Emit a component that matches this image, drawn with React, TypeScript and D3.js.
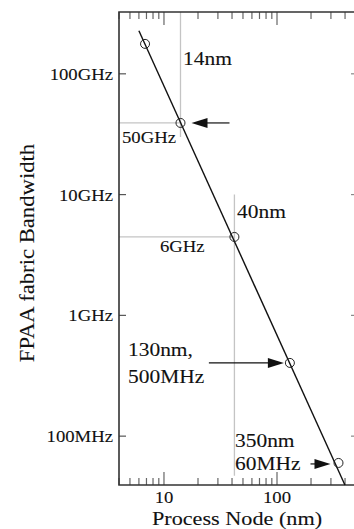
import React, { useEffect, useRef } from 'react';
import * as d3 from 'd3';

// process node (nm) and fabric bandwidth (Hz)
const nodes = [6.8, 14, 42, 130, 350];
const bandwidth = [1.77e11, 3.92e10, 4.46e9, 4.04e8, 6.0e7];

// fitted trend line end points
const fitNodes = [6.0, 399];
const fitBandwidth = [2.27e11, 3.94e7];

const yTicks = [1e8, 1e9, 1e10, 1e11];
const yTickLabels = ['100MHz', '1GHz', '10GHz', '100GHz'];
const xMajor = [10, 100];
const xTickLabels = ['10', '100'];

// grey guide lines
const guideV = [
  { node: 14, from: 3.25e11, to: 3.0e10 },
  { node: 42, from: 1.0e10, to: 4.7e7 },
];
const guideH = [
  { bw: 3.92e10, node: 14 },
  { bw: 4.46e9, node: 42 },
];

const FONT = '"Liberation Serif", "Times New Roman", serif';

const App = () => {
  const svgRef = useRef<SVGSVGElement>(null);

  useEffect(() => {
    const W = 354;
    const H = 529;
    const left = 119, right = 356, top = 12, bottom = 485;

    const root = d3.select(svgRef.current).attr('width', W).attr('height', H);
    root.selectAll('*').remove();
    const svg = root.append('g');

    const x = d3.scaleLog().domain([4, 500]).range([left, right]);
    const y = d3.scaleLog().domain([3.94e7, 3.25e11]).range([bottom, top]);

    const label = (text: string, tx: number, ty: number, size: number, anchor = 'start', sx = 1.1) =>
      svg.append('text')
        .attr('transform', `translate(${tx},${ty}) scale(${sx},1)`)
        .attr('text-anchor', anchor)
        .style('font-family', FONT)
        .style('font-size', `${size}px`)
        .style('fill', '#111')
        .style('stroke', '#111')
        .style('stroke-width', 0.1)
        .text(text);

    // guide lines
    guideV.forEach(g => {
      svg.append('line')
        .attr('x1', x(g.node)).attr('x2', x(g.node))
        .attr('y1', y(g.from)).attr('y2', y(g.to))
        .attr('stroke', '#c4c4c4').attr('stroke-width', 1.3);
    });
    guideH.forEach(g => {
      svg.append('line')
        .attr('x1', left).attr('x2', x(g.node))
        .attr('y1', y(g.bw)).attr('y2', y(g.bw))
        .attr('stroke', '#c4c4c4').attr('stroke-width', 1.3);
    });

    // x ticks (top and bottom, pointing inward)
    const xt = x.ticks();
    xt.forEach(v => {
      const len = xMajor.includes(v) ? 13 : 7;
      svg.append('line')
        .attr('x1', x(v)).attr('x2', x(v))
        .attr('y1', bottom).attr('y2', bottom - len)
        .attr('stroke', '#666').attr('stroke-width', 1.2);
      svg.append('line')
        .attr('x1', x(v)).attr('x2', x(v))
        .attr('y1', top).attr('y2', top + len)
        .attr('stroke', '#666').attr('stroke-width', 1.2);
    });

    // y ticks (left and right, pointing inward)
    yTicks.forEach((v, i) => {
      svg.append('line')
        .attr('x1', left).attr('x2', left + 7)
        .attr('y1', y(v)).attr('y2', y(v))
        .attr('stroke', '#555').attr('stroke-width', 1.2);
      svg.append('line')
        .attr('x1', right).attr('x2', right - 5)
        .attr('y1', y(v)).attr('y2', y(v))
        .attr('stroke', '#888').attr('stroke-width', 1.2);
      label(yTickLabels[i], left - 6, y(v) + 6, 17, 'end', 1.1);
    });

    xMajor.forEach((v, i) => {
      label(xTickLabels[i], x(v), 503, 17, 'middle', 1.1);
    });

    // axis frame
    svg.append('path')
      .attr('d', `M${right},${top}H${left}V${bottom}H${right}`)
      .attr('fill', 'none').attr('stroke', '#333').attr('stroke-width', 1.6);

    // trend line
    const line = d3.line<number>()
      .x((d, i) => x(fitNodes[i]))
      .y(d => y(d));
    svg.append('path')
      .datum(fitBandwidth)
      .attr('d', line)
      .attr('fill', 'none').attr('stroke', '#111').attr('stroke-width', 1.4);

    // data points
    svg.selectAll('circle.pt')
      .data(nodes)
      .enter()
      .append('circle')
      .attr('class', 'pt')
      .attr('cx', d => x(d))
      .attr('cy', (d, i) => y(bandwidth[i]))
      .attr('r', 4.5)
      .attr('fill', 'none')
      .attr('stroke', '#222')
      .attr('stroke-width', 1);

    // arrows
    const arrow = (tail: number, tip: number, ay: number) => {
      const dir = tip > tail ? 1 : -1;
      svg.append('line')
        .attr('x1', tail).attr('x2', tip - dir * 12)
        .attr('y1', ay).attr('y2', ay)
        .attr('stroke', '#111').attr('stroke-width', 1.2);
      svg.append('path')
        .attr('d', `M${tip},${ay}L${tip - dir * 16},${ay - 5}L${tip - dir * 16},${ay + 5}Z`)
        .attr('fill', '#111');
    };
    const px = (i: number) => x(nodes[i]);
    const py = (i: number) => y(bandwidth[i]);
    arrow(px(1) + 49, px(1) + 11, py(1));
    arrow(px(3) - 81, px(3) - 6, py(3));
    arrow(px(4) - 28, px(4) - 8, py(4) + 1);

    // annotations
    label('14nm', 183, 65, 19.5);
    label('50GHz', 122, 143, 17);
    label('40nm', 237, 218, 19.5);
    label('6GHz', 160, 252, 17);
    label('130nm,', 128, 356, 19.5);
    label('500MHz', 128, 383, 19.5);
    label('350nm', 235, 447, 19.5);
    label('60MHz', 235, 470, 19.5);

    // axis titles
    label('Process Node (nm)', 237, 525, 19, 'middle', 1.17);
    svg.append('text')
      .attr('transform', 'translate(34,253) rotate(-90) scale(1.08,1)')
      .attr('text-anchor', 'middle')
      .style('font-family', FONT)
      .style('font-size', '21px')
      .style('fill', '#111')
      .style('stroke', '#111')
      .style('stroke-width', 0.1)
      .text('FPAA fabric Bandwidth');
  }, []);

  return (
    <div style={{ position: 'absolute', left: 0, top: 0 }}>
      <svg ref={svgRef} style={{ display: 'block' }}></svg>
    </div>
  );
};

export default App;
